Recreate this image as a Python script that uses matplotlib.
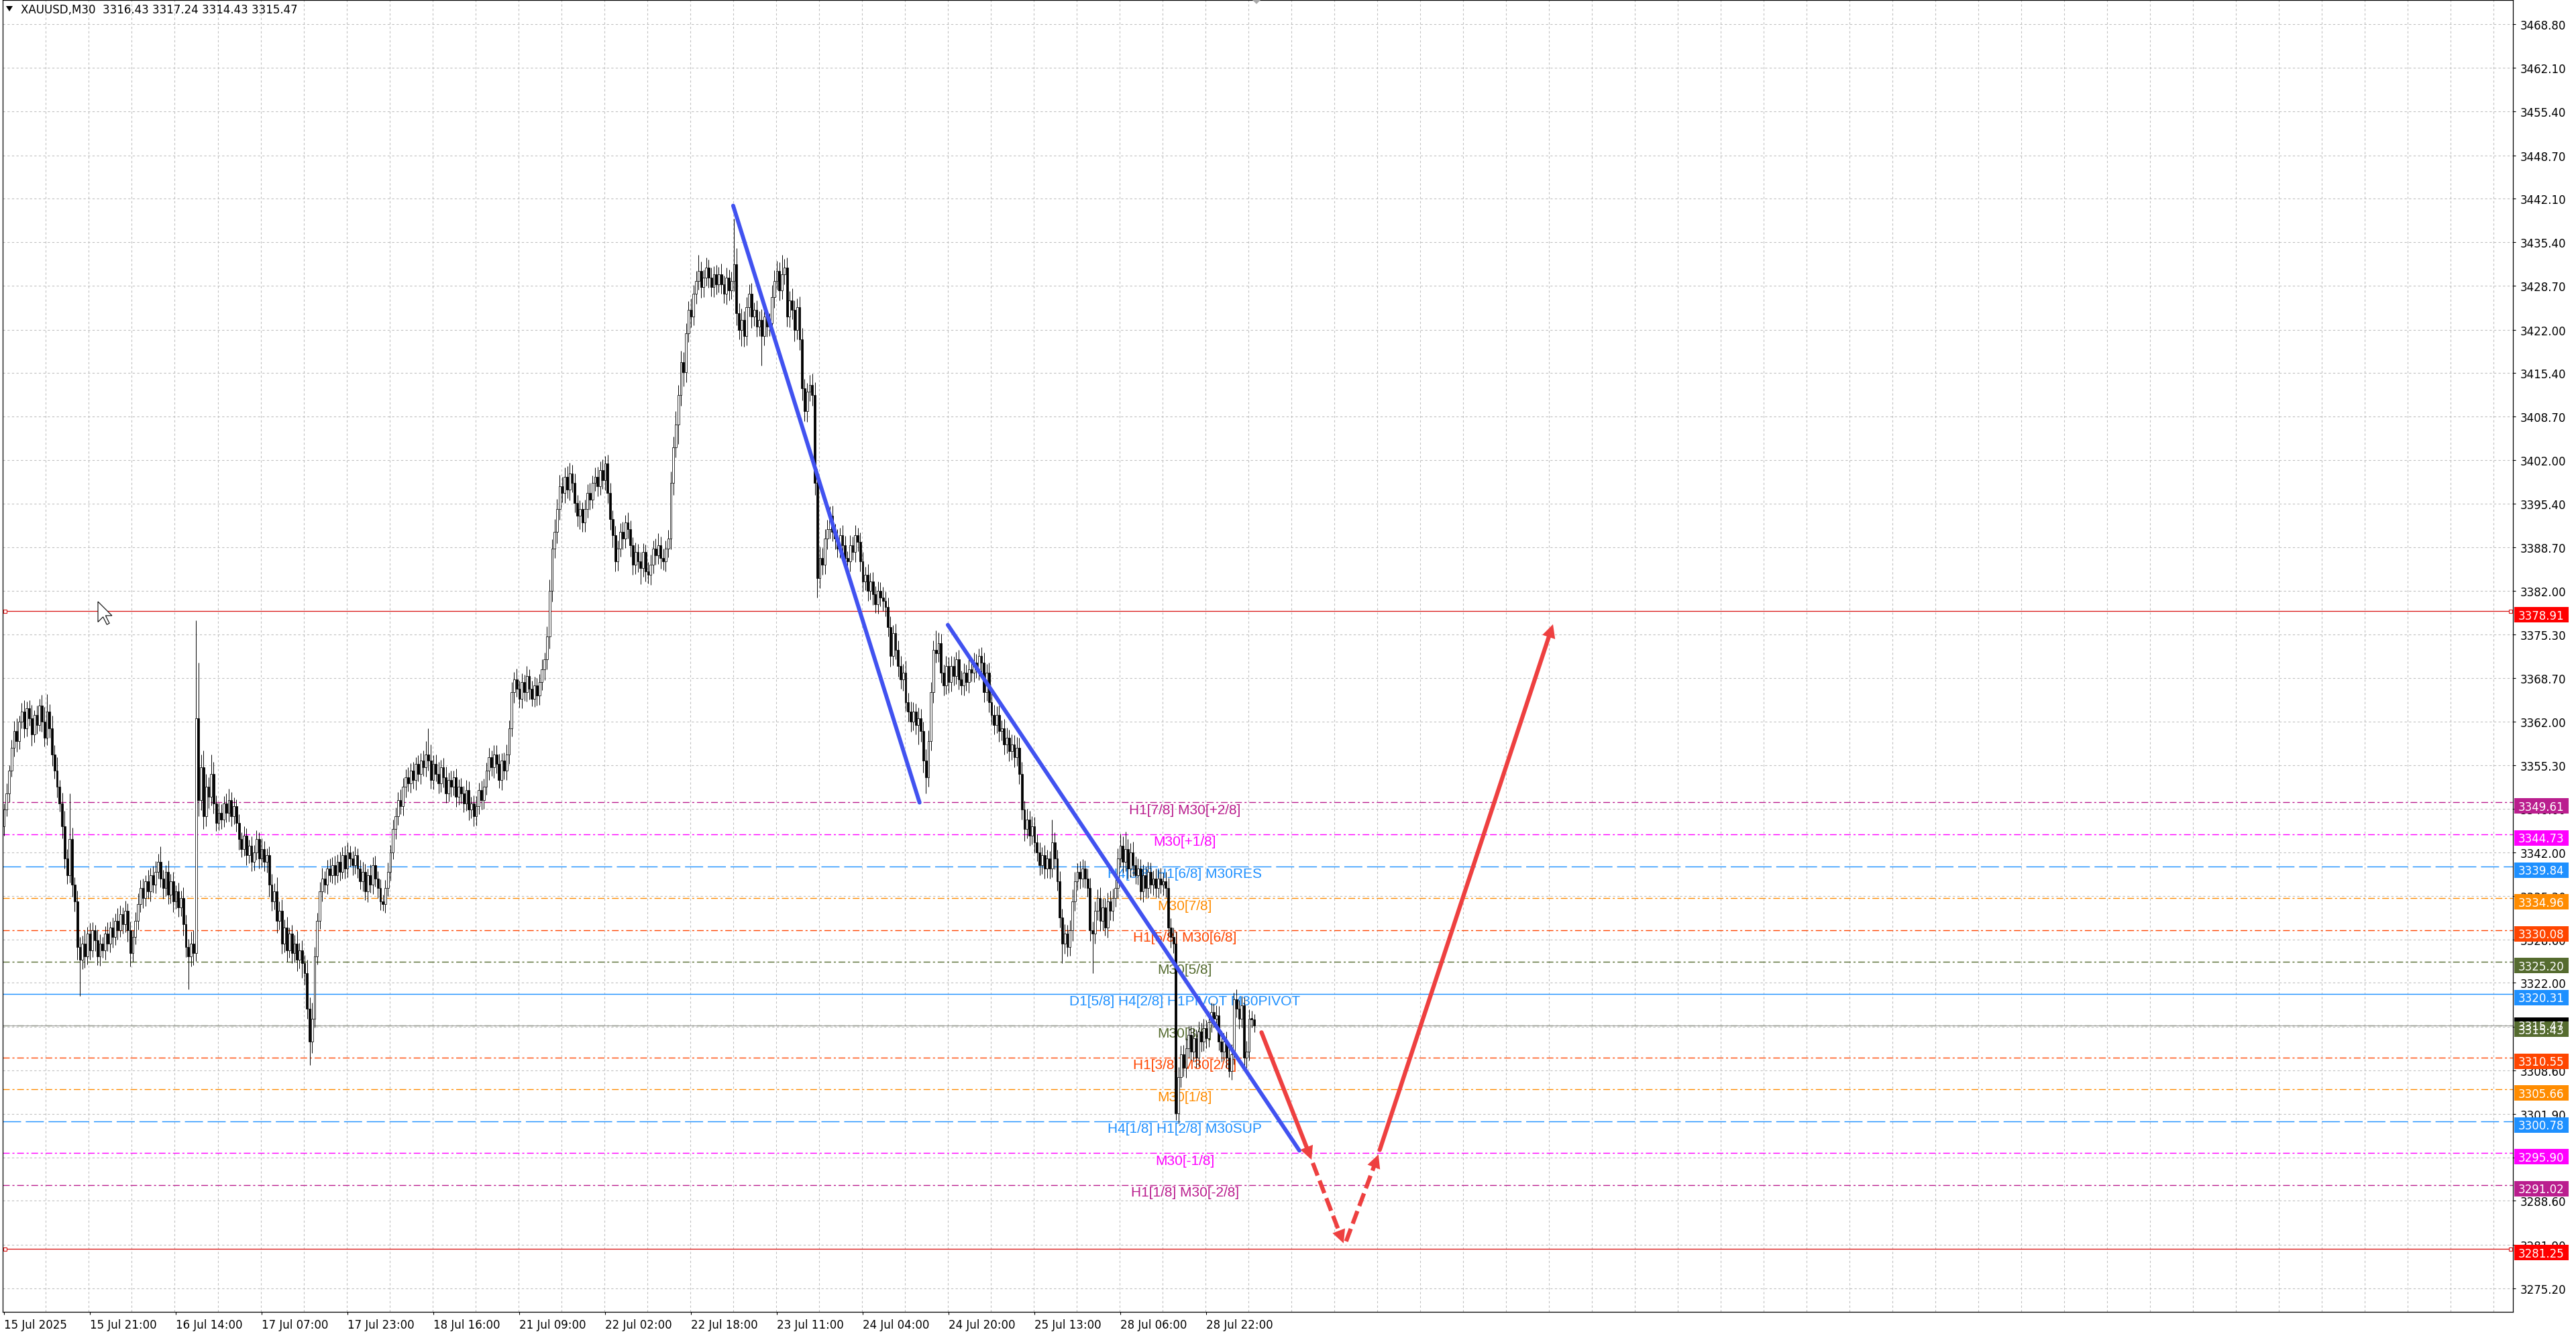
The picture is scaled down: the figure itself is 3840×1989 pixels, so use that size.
#!/usr/bin/env python3
# XAUUSD M30 chart with Murrey levels, trend lines and projected path
import numpy as np
import matplotlib
matplotlib.use('Agg')
import matplotlib.pyplot as plt
from matplotlib.patches import Rectangle, Polygon
from matplotlib.transforms import IdentityTransform

plt.rcParams['font.family'] = 'DejaVu Sans'

# ---- candle data (one value per M30 bar) ----
first_open = 3346.0
closes = [
    3348.5, 3351.0, 3354.5, 3358.0, 3360.5, 3359.0, 3362.0, 3363.5, 3361.0, 3364.0,
    3362.5, 3360.0, 3363.0, 3361.5, 3364.5, 3362.0, 3359.5, 3363.5, 3361.0, 3357.0,
    3354.5, 3352.0, 3349.5, 3346.0, 3341.0, 3338.5, 3344.0, 3337.0, 3334.5, 3327.5,
    3325.5, 3328.0, 3326.0, 3329.5, 3327.0, 3330.0, 3328.5, 3326.0, 3328.0, 3327.0,
    3329.5, 3328.0, 3330.5, 3329.0, 3331.5, 3330.0, 3332.5, 3331.0, 3333.0, 3330.0,
    3326.5, 3329.0, 3331.5, 3334.0, 3336.5, 3335.0, 3337.5, 3336.0, 3338.5, 3337.0,
    3339.0, 3340.5, 3338.0, 3336.5, 3339.0, 3335.5, 3337.5, 3334.5, 3336.0, 3333.5,
    3335.0, 3331.0, 3327.5, 3326.0, 3328.0, 3326.5, 3362.5, 3350.0, 3355.0, 3347.5,
    3352.0, 3350.5, 3354.0, 3349.5, 3346.5, 3348.0, 3347.0, 3349.5, 3348.0, 3350.0,
    3347.5, 3349.0, 3346.5, 3344.0, 3342.5, 3344.5, 3341.5, 3343.0, 3340.5, 3342.0,
    3344.0, 3341.0, 3342.5, 3340.5, 3341.5, 3337.0, 3334.5, 3336.0, 3331.5, 3333.0,
    3328.0, 3330.5, 3327.0, 3329.5, 3326.5, 3328.0, 3325.5, 3327.0, 3325.0, 3323.5,
    3318.0, 3313.0, 3316.5, 3326.0, 3331.5, 3336.0, 3338.0, 3337.0, 3339.5, 3338.5,
    3340.0, 3338.5, 3340.5, 3339.0, 3341.5, 3339.5, 3342.0, 3341.0, 3340.0, 3341.5,
    3339.5, 3337.5, 3339.0, 3336.0, 3338.5, 3337.0, 3340.0, 3338.0, 3336.5, 3334.5,
    3334.0, 3336.5, 3339.0, 3342.0, 3345.5, 3347.5, 3350.0, 3349.0, 3352.0, 3353.5,
    3352.5, 3354.5, 3353.0, 3355.5, 3354.0, 3356.0, 3355.0, 3357.0, 3356.0, 3353.0,
    3355.5, 3354.0, 3352.5, 3355.0, 3353.5, 3351.0, 3353.0, 3352.0, 3353.5, 3350.5,
    3352.0, 3351.0, 3349.5, 3351.5, 3348.5, 3349.5, 3347.5, 3349.0, 3351.5, 3350.0,
    3352.0, 3354.5, 3356.5, 3355.0, 3357.0, 3355.5, 3353.0, 3356.0, 3354.5, 3357.0,
    3361.0, 3366.5, 3368.5, 3367.0, 3365.5, 3368.0, 3366.5, 3369.0, 3367.0, 3365.5,
    3367.5, 3366.0, 3368.0, 3370.0, 3371.5, 3375.0, 3382.0, 3388.5, 3391.0, 3394.5,
    3398.0, 3397.0, 3399.5, 3397.5, 3400.0, 3398.5, 3395.5, 3393.5, 3394.5, 3392.5,
    3394.5, 3397.0, 3396.0, 3398.5, 3399.5, 3398.0, 3400.5, 3399.0, 3401.5, 3397.0,
    3393.0, 3390.5, 3386.5, 3388.5, 3391.0, 3390.0, 3392.5, 3391.5, 3389.0, 3386.0,
    3388.0, 3386.5, 3385.5, 3388.0, 3385.0, 3384.5, 3386.0, 3388.5, 3387.5, 3389.0,
    3387.0, 3386.5, 3388.5, 3390.0, 3398.5, 3404.0, 3407.5, 3412.0, 3417.0, 3415.5,
    3421.5, 3425.0, 3424.0, 3427.5, 3429.5, 3431.0, 3428.5, 3430.0, 3431.5, 3430.0,
    3428.5, 3430.5, 3429.0, 3430.5, 3429.0, 3427.5, 3430.0, 3428.0, 3429.5, 3432.0,
    3424.5, 3422.0, 3423.5, 3421.0, 3425.5, 3427.5, 3424.0, 3425.0, 3422.5, 3423.5,
    3421.0, 3424.0, 3422.5, 3423.0, 3427.0, 3429.5, 3431.0, 3428.0, 3430.5, 3431.5,
    3424.0, 3426.5, 3425.0, 3422.0, 3425.5, 3420.5, 3413.0, 3409.5, 3412.5, 3413.5,
    3412.0, 3398.5, 3384.0, 3387.0, 3386.0, 3390.0, 3391.5, 3393.5, 3391.0, 3390.0,
    3388.5, 3390.5, 3389.0, 3387.0, 3386.5, 3389.0, 3388.0, 3390.5, 3389.5, 3386.5,
    3383.5, 3384.5, 3382.0, 3383.5, 3381.5, 3380.0, 3382.0, 3381.0, 3380.5, 3379.5,
    3376.5, 3372.0, 3375.5, 3373.0, 3370.5, 3368.5, 3369.5, 3365.0, 3363.5, 3362.0,
    3363.5, 3361.5, 3362.5, 3360.5, 3356.0, 3353.5, 3359.0, 3366.5, 3373.0, 3372.5,
    3374.0, 3369.5, 3367.5, 3370.5, 3368.0, 3370.5, 3369.0, 3371.5, 3368.5, 3367.5,
    3369.5, 3368.0, 3370.0, 3369.5, 3371.0, 3370.0, 3372.0, 3371.0, 3366.5, 3369.5,
    3365.0, 3363.0, 3361.5, 3363.0, 3360.5, 3361.0, 3358.5, 3359.5, 3357.5, 3358.5,
    3356.5, 3358.0, 3354.0, 3348.5, 3345.5, 3347.0, 3344.5, 3346.0, 3343.5, 3342.0,
    3340.0, 3341.5, 3339.5, 3341.0, 3339.5, 3343.5, 3341.0, 3337.5, 3332.0, 3328.0,
    3329.5, 3327.5, 3330.0, 3334.5, 3337.5, 3339.0, 3338.0, 3339.5, 3338.0, 3336.5,
    3330.0, 3329.5, 3333.0, 3335.0, 3331.5, 3333.5, 3330.5, 3334.5, 3333.0, 3335.0,
    3336.5, 3341.0, 3343.0, 3340.5, 3342.5, 3339.5, 3342.0, 3340.0, 3338.5, 3339.5,
    3336.0, 3338.5, 3336.5, 3339.0, 3337.0, 3338.0, 3336.5, 3338.0, 3337.0, 3337.5,
    3336.5, 3330.5, 3329.0, 3328.0, 3302.0, 3307.5, 3311.0, 3309.0, 3312.0, 3314.0,
    3311.5, 3313.5, 3310.5, 3314.5, 3313.0, 3315.0, 3313.5, 3316.0, 3317.5, 3316.5,
    3317.0, 3313.0, 3311.5, 3313.0, 3310.5, 3308.5, 3311.0, 3319.5, 3318.0, 3316.5,
    3318.5, 3310.5, 3311.5, 3316.5, 3316.43, 3315.47,
]
upper_wicks = [
    1.0, 1.5, 0.8, 1.2, 1.6, 2.0, 0.9, 1.4, 1.8, 1.1,
    1.3, 2.1, 0.7, 1.5, 1.0, 1.6, 2.2, 2.7, 1.2, 1.9,
    1.4, 2.0, 1.1, 1.6, 2.3, 1.5, 7.0, 1.8, 1.2, 1.6,
    1.5, 1.2, 2.0, 1.1, 1.7, 1.3, 0.9, 1.6, 1.4, 1.0,
    1.2, 1.8, 0.9, 1.5, 1.1, 1.9, 1.3, 1.0, 1.6, 1.2,
    1.4, 1.0, 1.3, 1.7, 1.2, 1.5, 1.0, 1.8, 1.1, 1.4,
    1.6, 1.2, 2.4, 1.3, 1.0, 1.7, 1.2, 1.5, 0.9, 1.3,
    1.1, 1.6, 1.4, 1.2, 1.8, 2.0, 15.0, 8.5, 2.0, 2.6,
    2.0, 1.5, 3.0, 1.8, 1.2, 1.6, 1.3, 1.1, 1.5, 1.7,
    1.2, 1.4, 1.1, 1.3, 1.0, 1.5, 1.2, 0.9, 1.4, 1.1,
    1.3, 1.0, 1.6, 1.2, 1.1, 1.4, 1.7, 1.2, 2.2, 1.5,
    1.8, 1.2, 1.6, 1.0, 1.4, 1.3, 1.9, 1.1, 1.5, 1.2,
    2.0, 1.8, 2.5, 1.5, 1.2, 1.4, 1.6, 1.1, 1.3, 1.5,
    1.2, 1.4, 1.1, 1.6, 1.3, 1.5, 1.5, 1.0, 1.2, 1.4,
    1.1, 1.3, 1.5, 1.2, 1.0, 1.6, 1.2, 1.4, 1.1, 1.3,
    1.0, 1.2, 1.4, 1.1, 1.5, 1.3, 1.2, 1.6, 1.4, 1.2,
    1.5, 1.1, 1.3, 1.0, 1.4, 1.2, 1.6, 2.0, 4.0, 2.5,
    1.3, 1.5, 1.8, 1.1, 1.4, 1.6, 1.2, 1.5, 1.0, 1.3,
    1.2, 1.4, 1.1, 1.5, 1.3, 1.0, 1.2, 1.6, 1.1, 1.4,
    1.3, 1.2, 1.5, 1.1, 1.4, 1.4, 1.6, 1.2, 1.3, 1.5,
    1.2, 1.5, 1.1, 1.6, 1.3, 1.4, 1.2, 1.5, 1.0, 1.3,
    1.4, 1.2, 1.3, 1.5, 1.1, 1.6, 1.8, 1.4, 2.0, 1.6,
    1.8, 1.5, 1.4, 1.6, 1.6, 1.3, 1.5, 1.2, 1.4, 1.1,
    1.5, 1.3, 1.6, 1.2, 1.4, 1.5, 1.3, 1.6, 1.2, 1.4,
    1.6, 1.3, 1.5, 1.2, 1.4, 1.6, 1.1, 1.5, 1.3, 1.2,
    1.4, 1.2, 1.5, 1.3, 1.1, 1.4, 1.6, 1.2, 1.5, 1.8,
    1.3, 1.5, 1.2, 1.4, 1.8, 1.6, 2.0, 1.5, 1.8, 1.6,
    1.5, 1.4, 1.8, 1.3, 1.5, 2.5, 1.4, 1.2, 1.6, 1.3,
    1.5, 1.2, 1.4, 1.1, 1.6, 1.3, 1.5, 1.2, 1.4, 7.0,
    2.5, 1.6, 1.8, 1.3, 1.5, 1.4, 1.7, 1.2, 1.5, 1.3,
    1.6, 1.4, 1.2, 1.5, 1.8, 1.6, 1.5, 1.3, 3.0, 1.4,
    1.6, 1.4, 1.8, 1.5, 1.3, 1.6, 1.8, 1.5, 1.4, 1.6,
    1.8, 2.0, 2.2, 1.8, 1.6, 1.5, 1.4, 1.5, 1.6, 1.3,
    1.5, 1.2, 1.6, 1.4, 1.1, 1.5, 1.3, 1.6, 1.2, 1.4,
    1.5, 1.2, 1.6, 1.3, 1.4, 1.2, 1.5, 1.3, 1.6, 1.4,
    1.5, 1.6, 1.3, 1.5, 1.4, 1.6, 1.3, 1.8, 1.4, 1.6,
    1.5, 1.3, 1.6, 1.4, 1.5, 1.8, 1.6, 1.5, 1.4, 3.0,
    1.6, 1.4, 1.2, 1.5, 1.3, 1.6, 1.4, 1.2, 1.5, 1.3,
    1.4, 1.2, 1.5, 1.3, 1.6, 1.4, 1.2, 1.4, 1.6, 1.3,
    1.5, 1.4, 1.6, 1.3, 1.5, 1.2, 1.4, 1.6, 1.3, 1.5,
    1.4, 1.6, 1.5, 1.8, 1.4, 1.6, 1.3, 1.5, 1.4, 1.2,
    1.5, 1.3, 1.6, 1.4, 1.2, 3.5, 1.5, 1.4, 1.6, 1.3,
    1.5, 1.4, 1.6, 1.8, 1.5, 1.3, 1.6, 1.4, 1.2, 1.5,
    1.6, 1.4, 1.5, 1.3, 1.6, 1.4, 1.5, 1.3, 1.6, 1.4,
    1.5, 1.6, 1.8, 1.4, 2.6, 1.5, 1.4, 1.6, 1.3, 1.5,
    1.4, 1.6, 1.3, 1.5, 1.4, 1.2, 1.5, 1.3, 1.6, 1.4,
    1.5, 1.6, 1.4, 1.5, 1.8, 1.6, 1.4, 1.5, 1.6, 1.4,
    1.5, 1.5, 1.3, 1.6, 1.4, 1.5, 1.3, 1.6, 1.4, 1.3,
    1.5, 1.4, 1.6, 1.3, 1.5, 1.4, 1.6, 1.0, 1.5, 1.4,
    1.5, 1.3, 1.6, 1.4, 1.2, 0.81,
]
lower_wicks = [
    1.5, 1.0, 1.3, 0.9, 1.4, 1.6, 1.2, 1.0, 1.5, 1.3,
    1.1, 1.7, 1.2, 1.4, 1.0, 1.6, 1.3, 1.1, 1.5, 1.8,
    1.2, 1.6, 1.3, 1.9, 1.5, 1.4, 1.2, 1.8, 1.6, 2.0,
    5.5, 1.4, 1.7, 1.2, 1.5, 1.1, 1.6, 1.3, 1.4, 1.2,
    1.5, 1.1, 1.3, 1.6, 1.2, 1.4, 1.0, 1.5, 1.3, 1.7,
    2.0, 1.3, 1.1, 1.4, 1.2, 1.6, 1.3, 1.1, 1.5, 1.2,
    1.3, 1.1, 1.4, 1.6, 1.2, 1.5, 1.3, 1.7, 1.2, 1.4,
    1.3, 1.8, 1.6, 5.0, 1.5, 1.8, 1.2, 2.5, 1.6, 2.0,
    1.5, 1.8, 1.4, 1.6, 1.3, 1.2, 1.5, 1.1, 1.4, 1.3,
    1.5, 1.2, 1.4, 1.6, 1.3, 1.1, 1.5, 1.2, 1.4, 1.3,
    1.2, 1.5, 1.3, 1.4, 1.6, 1.8, 1.5, 1.3, 1.9, 1.4,
    1.6, 1.3, 1.8, 1.2, 1.5, 1.4, 1.7, 1.3, 2.2, 1.8,
    1.5, 3.6, 1.8, 1.4, 1.2, 1.3, 1.5, 1.2, 1.4, 1.1,
    1.3, 1.5, 1.2, 1.4, 1.1, 1.6, 1.3, 1.2, 1.5, 1.3,
    1.4, 1.2, 1.5, 1.3, 1.6, 1.2, 1.4, 1.3, 1.5, 1.4,
    1.0, 1.3, 1.2, 1.4, 1.1, 1.5, 1.3, 1.2, 1.4, 1.6,
    1.2, 1.4, 1.3, 1.5, 1.2, 1.6, 1.3, 1.4, 1.5, 1.3,
    1.4, 1.2, 1.5, 1.3, 1.6, 1.4, 1.2, 1.5, 1.3, 1.6,
    1.3, 1.5, 1.4, 1.2, 1.6, 1.3, 1.5, 1.4, 1.2, 1.5,
    1.4, 1.2, 1.5, 1.3, 1.6, 1.4, 1.2, 1.5, 1.3, 1.4,
    1.5, 1.3, 1.6, 1.2, 1.4, 1.5, 1.3, 1.4, 1.6, 1.2,
    1.3, 1.5, 1.4, 1.2, 1.6, 1.5, 1.8, 1.6, 1.5, 1.7,
    1.6, 1.4, 1.5, 1.3, 1.6, 1.4, 1.5, 1.6, 2.0, 1.4,
    1.5, 1.3, 1.6, 1.4, 1.2, 1.5, 1.3, 1.4, 1.6, 1.5,
    1.6, 1.8, 1.5, 1.4, 1.3, 1.6, 1.4, 1.5, 1.7, 1.5,
    1.4, 1.6, 2.5, 1.3, 1.5, 1.4, 1.6, 1.3, 1.5, 1.4,
    1.6, 1.3, 1.5, 1.4, 1.6, 1.8, 1.5, 3.0, 1.6, 2.2,
    1.5, 1.4, 1.6, 1.3, 1.5, 1.4, 1.6, 1.5, 1.3, 1.6,
    1.4, 1.5, 1.6, 1.3, 1.5, 1.4, 1.6, 1.5, 1.3, 1.6,
    1.8, 1.5, 2.5, 1.6, 1.4, 1.5, 1.7, 1.4, 1.6, 1.5,
    4.5, 1.4, 1.6, 1.5, 1.3, 1.6, 1.4, 1.5, 1.3, 1.6,
    1.5, 1.6, 1.4, 1.8, 1.5, 1.6, 1.8, 1.5, 1.6, 1.4,
    1.6, 1.8, 3.0, 1.6, 1.5, 1.4, 1.6, 1.5, 1.4, 1.6,
    1.4, 1.5, 1.3, 1.6, 1.4, 1.5, 1.3, 1.6, 1.4, 1.5,
    1.6, 1.4, 1.5, 1.3, 1.6, 1.4, 1.5, 1.3, 1.6, 1.4,
    1.5, 1.6, 1.4, 1.5, 1.6, 1.5, 1.8, 1.4, 1.5, 1.6,
    1.4, 1.5, 3.0, 1.6, 1.8, 2.5, 1.5, 1.4, 1.6, 1.5,
    1.4, 1.6, 1.5, 1.3, 1.6, 1.4, 1.5, 1.3, 1.6, 1.4,
    1.5, 1.3, 1.6, 1.4, 1.5, 1.3, 1.6, 1.4, 1.5, 1.3,
    1.6, 1.4, 1.5, 1.3, 1.6, 1.4, 1.5, 1.3, 1.6, 1.4,
    1.5, 1.3, 1.6, 1.5, 1.8, 1.4, 1.5, 1.3, 1.6, 1.4,
    1.5, 1.3, 1.6, 1.4, 1.5, 1.3, 1.6, 1.4, 1.5, 3.0,
    1.6, 1.5, 1.4, 1.6, 1.5, 1.3, 1.6, 1.4, 1.5, 1.3,
    1.6, 6.0, 1.5, 1.4, 1.6, 1.5, 1.3, 1.6, 1.4, 1.5,
    1.4, 1.5, 1.3, 1.6, 1.4, 1.5, 1.3, 1.6, 1.4, 1.5,
    1.3, 1.6, 1.4, 1.5, 1.3, 1.6, 1.4, 1.5, 1.3, 1.6,
    1.4, 1.5, 1.6, 1.4, 1.0, 1.5, 1.5, 1.4, 1.6, 1.5,
    1.4, 1.6, 1.5, 1.3, 1.6, 1.4, 1.5, 1.3, 1.6, 1.4,
    1.5, 1.3, 1.6, 1.4, 1.5, 1.0, 1.4, 1.5, 1.3, 1.6,
    1.4, 1.9, 1.5, 1.4, 1.3, 1.04,
]

# ---- axis ticks ----
x_tick_bars = [0, 34, 68, 102, 136, 170, 204, 238, 272, 306, 340, 374, 408, 442, 476]
x_tick_labels = ['15 Jul 2025', '15 Jul 21:00', '16 Jul 14:00', '17 Jul 07:00', '17 Jul 23:00',
                 '18 Jul 16:00', '21 Jul 09:00', '22 Jul 02:00', '22 Jul 18:00', '23 Jul 11:00',
                 '24 Jul 04:00', '24 Jul 20:00', '25 Jul 13:00', '28 Jul 06:00', '28 Jul 22:00']
y_ticks = [3468.80, 3462.10, 3455.40, 3448.70, 3442.10, 3435.40, 3428.70, 3422.00, 3415.40,
           3408.70, 3402.00, 3395.40, 3388.70, 3382.00, 3375.30, 3368.70, 3362.00, 3355.30,
           3348.60, 3342.00, 3335.30, 3328.60, 3322.00, 3315.30, 3308.60, 3301.90, 3295.20,
           3288.60, 3281.90, 3275.20]

# ---- Murrey math levels ----
level_prices = [3349.61, 3344.73, 3339.84, 3334.96, 3330.08, 3325.20, 3320.31,
                3315.43, 3310.55, 3305.66, 3300.78, 3295.90, 3291.02]
level_names = ['H1[7/8] M30[+2/8]', 'M30[+1/8]', 'H4[3/8] H1[6/8] M30RES', 'M30[7/8]',
               'H1[5/8] M30[6/8]', 'M30[5/8]', 'D1[5/8] H4[2/8] H1PIVOT M30PIVOT', 'M30[3/8]',
               'H1[3/8] M30[2/8]', 'M30[1/8]', 'H4[1/8] H1[2/8] M30SUP', 'M30[-1/8]',
               'H1[1/8] M30[-2/8]']
level_colors = ['#BA1E8E', '#FF00FF', '#1E90FF', '#FF8C00', '#FF4500', '#556B2F', '#1E90FF',
                '#556B2F', '#FF4500', '#FF8C00', '#1E90FF', '#FF00FF', '#BA1E8E']
level_kinds = ['dashdot', 'dashdot', 'long', 'dashdot', 'dashdot', 'dashdot', 'solid',
               'dashdot', 'dashdot', 'dashdot', 'long', 'dashdot', 'dashdot']
target_prices = [3378.91, 3281.25]
bid_price = 3315.47
title = 'XAUUSD,M30  3316.43 3317.24 3314.43 3315.47'

# ---- drawn objects (bar index, price) ----
trend_bars = [[288.7, 362.5], [373.7, 512.9]]
trend_prices = [[3441.0, 3349.6], [3376.8, 3296.3]]
arrow_from = [(497.9, 3314.4), (518.2, 3294.4), (531.4, 3282.4), (544.7, 3296.4)]
arrow_to = [(517.7, 3294.9), (530.4, 3282.1), (544.2, 3295.7), (613.3, 3376.9)]
arrow_dashed = [False, True, True, False]

W, H = 3840, 1990
fig = plt.figure(figsize=(W / 100, H / 100), dpi=100)
fig.patch.set_facecolor('white')
ax = fig.add_axes([4 / W, 1 - 1957 / H, (3746 - 4) / W, (1957 - 1) / H])
ax.set_xlim(-0.53, 993.4)
ax.set_ylim(3271.6, 3472.5)
ax.set_facecolor('white')
for sp in ax.spines.values():
    sp.set_color('black')
    sp.set_linewidth(0.9)

grid_col = '#C0C0C0'
for k in range(1, 59):
    ax.axvline(17 * k - 0.4, color=grid_col, lw=0.8, ls=(0, (3, 3)), zorder=1)
for v in y_ticks:
    ax.axhline(v, color=grid_col, lw=0.8, ls=(0, (3, 3)), zorder=1)

# level lines + labels
styles = {'dashdot': (0, (7.2, 2.9, 2.2, 2.9)), 'long': (0, (19.4, 5.0)), 'solid': '-'}
for p, name, c, kind in zip(level_prices, level_names, level_colors, level_kinds):
    ax.axhline(p, color=c, lw=1.0, ls=styles[kind], zorder=2)
    ax.annotate(name, xy=(467.5, p), xytext=(0, -11), textcoords='offset pixels',
                ha='center', va='center', color=c, fontsize=15,
                family='Liberation Sans', zorder=3)
ax.axhline(bid_price, color='#A0A0A0', lw=0.8, zorder=2)
for p in target_prices:
    ax.axhline(p, color='#D81010', lw=0.9, zorder=2)

# candles
closes = np.array(closes)
opens = np.concatenate([[first_open], closes[:-1]])
highs = np.maximum(opens, closes) + np.array(upper_wicks)
lows = np.minimum(opens, closes) - np.array(lower_wicks)
xs = np.arange(len(closes))
ax.vlines(xs, lows, highs, color='black', lw=0.7, zorder=4)
up = closes >= opens
body_h = np.maximum(np.abs(closes - opens), 0.12)
body_b = np.minimum(opens, closes)
ax.bar(xs[up], body_h[up], bottom=body_b[up], width=0.75, color='white',
       edgecolor='black', lw=0.55, zorder=5)
ax.bar(xs[~up], body_h[~up], bottom=body_b[~up], width=0.75, color='black',
       edgecolor='black', lw=0.55, zorder=5)

# trend lines
for bx, py in zip(trend_bars, trend_prices):
    ax.plot(bx, py, color='#4152F0', lw=4.3, solid_capstyle='round', zorder=6)

# ticks
ax.yaxis.tick_right()
ax.set_yticks(y_ticks)
ax.set_yticklabels([f'{v:.2f}' for v in y_ticks])
ax.tick_params(axis='y', length=3, width=0.8, pad=5, labelsize=12, colors='black')
ax.set_xticks(x_tick_bars)
ax.set_xticklabels(x_tick_labels, ha='left')
ax.tick_params(axis='x', length=3, width=0.8, pad=4, labelsize=12, colors='black')

# projected path arrows (heads sized in pixels)
red = '#EE4040'
pix = IdentityTransform()
for p0, p1, dashed in zip(arrow_from, arrow_to, arrow_dashed):
    d0 = ax.transData.transform(p0)
    d1 = ax.transData.transform(p1)
    u = (d1 - d0) / np.hypot(*(d1 - d0))
    base = ax.transData.inverted().transform(d1 - u * 17)
    ls = (0, (3.2, 1.3)) if dashed else '-'
    ax.plot([p0[0], base[0]], [p0[1], base[1]], color=red, lw=4.5, ls=ls,
            solid_capstyle='round', dash_capstyle='butt', zorder=7)
    perp = np.array([-u[1], u[0]])
    b = d1 - u * 20
    ax.add_patch(Polygon([d1, b + perp * 10, b - perp * 10], closed=True,
                         transform=pix, facecolor=red, edgecolor='none', zorder=8))

# small squares at the ends of the target lines
for p in target_prices:
    yd = ax.transData.transform((0, p))[1]
    for xd in (5, 3740):
        fig.add_artist(Rectangle((xd, yd - 2.5), 5, 5, transform=pix, facecolor='white',
                                 edgecolor='#D81010', lw=0.8, zorder=3))

# right-side price boxes
def price_box(price, color, shift=5.5):
    yd = ax.transData.transform((0, price))[1] - shift
    fig.add_artist(Rectangle((3748, yd - 11.5), 81, 23, transform=pix,
                             facecolor=color, edgecolor='none', zorder=4))
    fig.text(3754, yd - 1, f'{price:.2f}', transform=pix, color='white',
             fontsize=12, ha='left', va='center', zorder=5)

price_box(target_prices[0], '#FF0000')
for p, c in zip(level_prices, level_colors):
    if p == 3315.43:
        price_box(bid_price, 'black', shift=0)
    price_box(p, c)
price_box(target_prices[1], '#FF0000')

# title and small markers
fig.add_artist(Polygon([(9, 1980), (19, 1980), (14, 1972)], closed=True, transform=pix,
                       facecolor='black', edgecolor='none'))
fig.text(31, H - 15, title, transform=pix, fontsize=12, ha='left', va='center', color='black')
fig.add_artist(Polygon([(1867, 1989), (1879, 1989), (1873, 1983)], closed=True, transform=pix,
                       facecolor='#A8A8A8', edgecolor='none'))

# mouse pointer
cur = np.array([(0, 0), (0, 16), (4, 12), (7, 18), (9, 17), (6, 11), (11, 11)], float)
cur_pts = np.column_stack([146 + cur[:, 0] * 1.9, (H - 898) - cur[:, 1] * 1.9])
fig.add_artist(Polygon(cur_pts, closed=True, transform=pix, facecolor='white',
                       edgecolor='black', lw=0.8, zorder=6))

fig.savefig('out.png', dpi=100, facecolor='white')
